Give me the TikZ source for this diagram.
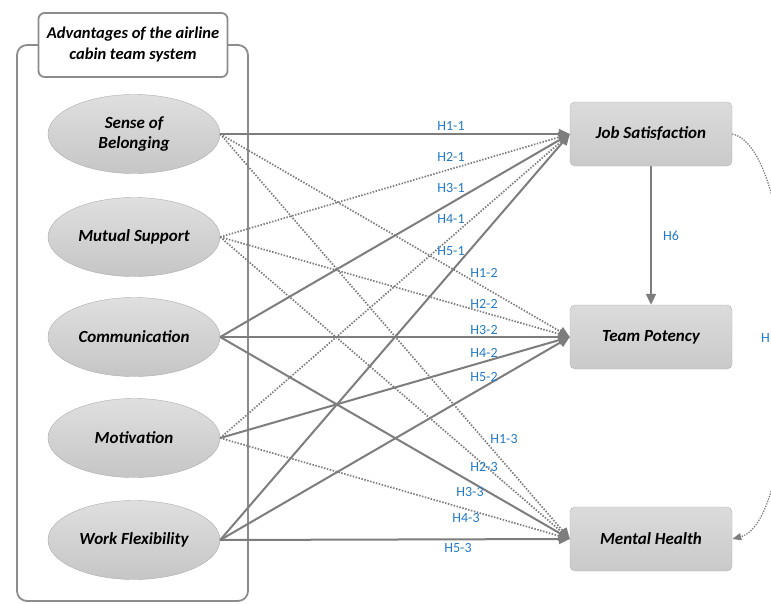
\documentclass[tikz,border=0pt]{standalone}
\usepackage{fontspec}
\setmainfont{Carlito}
\usetikzlibrary{arrows.meta, shapes.geometric}

\definecolor{linegray}{RGB}{125,125,125}
\definecolor{framegray}{RGB}{140,140,140}
\definecolor{hblue}{RGB}{35,122,200}

\begin{document}
\begin{tikzpicture}[x=1pt,y=-1pt,
  factor/.style={ellipse, draw=gray!65, top color=gray!25, bottom color=gray!45,
    minimum width=172pt, minimum height=79pt, inner sep=0pt, align=center,
    font=\fontsize{17}{20}\selectfont\bfseries\itshape},
  outcome/.style={rectangle, rounded corners=5pt, draw=gray!60, top color=gray!28,
    bottom color=gray!42, minimum width=162pt, minimum height=64pt,
    font=\fontsize{17}{20}\selectfont\bfseries\itshape},
  solidarrow/.style={draw=linegray, line width=2pt, -{Triangle[length=11pt,width=10pt]}},
  dotarrow/.style={solidarrow, line width=1.7pt, dash pattern=on 1.5pt off 1.5pt},
  hlab/.style={text=hblue, inner sep=0pt, font=\fontsize{14}{14}\selectfont}
]
  \useasboundingbox (0,0) rectangle (771,603);

  % cornice
  \draw[framegray, line width=1.8pt, rounded corners=10pt] (17,45) rectangle (248,601);
  \node[rectangle, rounded corners=6pt, draw=framegray, line width=1.8pt, fill=white,
    minimum width=189pt, minimum height=64pt, align=center,
    font=\fontsize{16.5}{21}\selectfont\bfseries\itshape] (title) at (133,45)
    {Advantages of the airline\\cabin team system};

  % fattori
  \node[factor] (sb) at (134,134) {Sense of\\Belonging};
  \node[factor] (mu) at (134,237) {Mutual Support};
  \node[factor] (co) at (134,337) {Communication};
  \node[factor] (mo) at (134,438) {Motivation};
  \node[factor] (wf) at (134,540) {Work Flexibility};

  % esiti
  \node[outcome] (js) at (651,134) {Job Satisfaction};
  \node[outcome] (tp) at (651,337) {Team Potency};
  \node[outcome] (mh) at (651,539) {Mental Health};

  % verso job satisfaction
  \draw[solidarrow] (sb.east) -- (js.west);
  \draw[dotarrow] (mu.east) -- (js.west);
  \draw[solidarrow] (co.east) -- (js.west);
  \draw[dotarrow] (mo.east) -- (js.west);
  \draw[solidarrow] (wf.east) -- (js.west);

  % verso team potency
  \draw[dotarrow] (sb.east) -- (tp.west);
  \draw[dotarrow] (mu.east) -- (tp.west);
  \draw[solidarrow] (co.east) -- (tp.west);
  \draw[solidarrow] (mo.east) -- (tp.west);
  \draw[solidarrow] (wf.east) -- (tp.west);

  % verso mental health
  \draw[dotarrow] (sb.east) -- (mh.west);
  \draw[dotarrow] (mu.east) -- (mh.west);
  \draw[solidarrow] (co.east) -- (mh.west);
  \draw[dotarrow] (mo.east) -- (mh.west);
  \draw[solidarrow] (wf.east) -- (mh.west);

  % H6, H7
  \draw[solidarrow] (js.south) -- (tp.north);
  \draw[draw=linegray, line width=1.3pt, dash pattern=on 1.3pt off 1.3pt,
    -{Triangle[length=9pt,width=7pt]}] (js.east) .. controls (805,150) and (805,520) .. (mh.east);

  % etichette
  \node[hlab] (h11) at (451,126) {H1-1};
  \node[hlab] (h21) at (451,157) {H2-1};
  \node[hlab] (h31) at (451,188) {H3-1};
  \node[hlab] (h41) at (451,219) {H4-1};
  \node[hlab] (h51) at (451,251) {H5-1};
  \node[hlab] (h12) at (484,273) {H1-2};
  \node[hlab] (h22) at (484,304) {H2-2};
  \node[hlab] (h32) at (484,330) {H3-2};
  \node[hlab] (h42) at (484,353) {H4-2};
  \node[hlab] (h52) at (484,377) {H5-2};
  \node[hlab] (h13) at (504,439) {H1-3};
  \node[hlab] (h23) at (484,467) {H2-3};
  \node[hlab] (h33) at (470,492) {H3-3};
  \node[hlab] (h43) at (466,518) {H4-3};
  \node[hlab] (h53) at (458,548) {H5-3};
  \node[hlab] (h6) at (671,236) {H6};
  \node[hlab, anchor=east] (h7) at (770,338) {H};
\end{tikzpicture}
\end{document}
